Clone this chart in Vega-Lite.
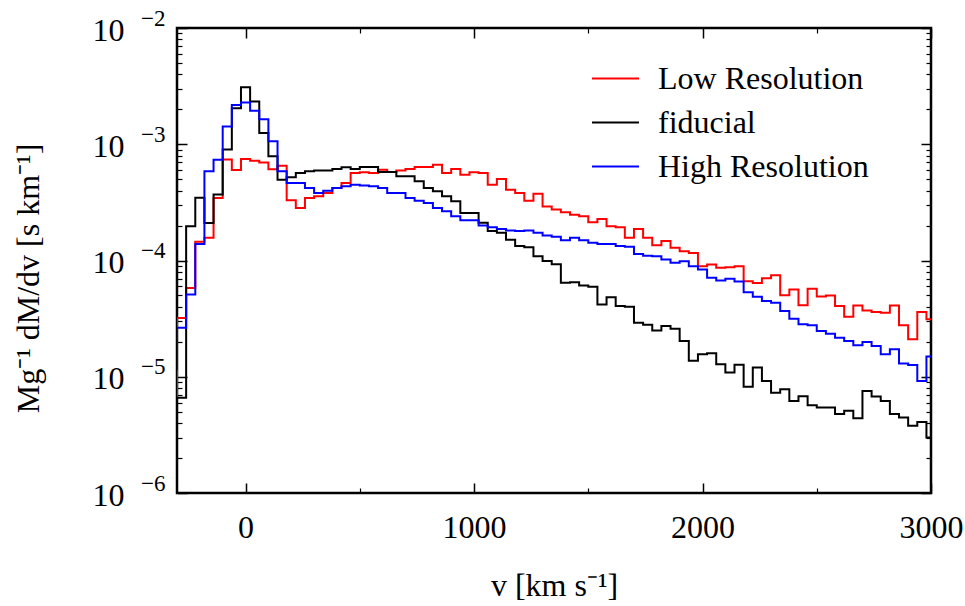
{
  "$schema": "https://vega.github.io/schema/vega-lite/v6.json",
  "width": 754,
  "height": 465,
  "autosize": {"type": "none"},
  "padding": {"left": 177, "top": 28, "right": 34, "bottom": 113},
  "background": "white",
  "config": {
    "font": "Liberation Serif",
    "view": {"stroke": "black", "strokeWidth": 2.5},
    "axis": {"grid": false, "domain": false, "labelColor": "black", "tickColor": "black", "titleColor": "black", "labelFont": "Liberation Serif", "titleFont": "Liberation Serif", "titleFontWeight": "normal", "labelFlush": false, "labelOverlap": false}
  },
  "data": {"values": [
    {"v": -340, "Low Resolution": 6.8e-6, "fiducial": 5.0e-6, "High Resolution": 1.16e-5},
    {"v": -300, "Low Resolution": 3.2e-5, "fiducial": 6.6e-6, "High Resolution": 2.64e-5},
    {"v": -260, "Low Resolution": 5.8e-5, "fiducial": 1.97e-4, "High Resolution": 5.1e-5},
    {"v": -220, "Low Resolution": 1.45e-4, "fiducial": 3.46e-4, "High Resolution": 1.39e-4},
    {"v": -180, "Low Resolution": 1.57e-4, "fiducial": 2.1e-4, "High Resolution": 5.85e-4},
    {"v": -140, "Low Resolution": 3.45e-4, "fiducial": 3.7e-4, "High Resolution": 7.36e-4},
    {"v": -100, "Low Resolution": 7.4e-4, "fiducial": 9.0e-4, "High Resolution": 1.42e-3},
    {"v": -60, "Low Resolution": 6.0e-4, "fiducial": 2.04e-3, "High Resolution": 2.18e-3},
    {"v": -20, "Low Resolution": 7.46e-4, "fiducial": 3.1e-3, "High Resolution": 2.29e-3},
    {"v": 20, "Low Resolution": 7.2e-4, "fiducial": 2.33e-3, "High Resolution": 1.94e-3},
    {"v": 60, "Low Resolution": 6.98e-4, "fiducial": 1.25e-3, "High Resolution": 1.64e-3},
    {"v": 100, "Low Resolution": 6.1e-4, "fiducial": 7.9e-4, "High Resolution": 1.06e-3},
    {"v": 140, "Low Resolution": 6.53e-4, "fiducial": 4.95e-4, "High Resolution": 5.85e-4},
    {"v": 180, "Low Resolution": 3.3e-4, "fiducial": 5.19e-4, "High Resolution": 4.64e-4},
    {"v": 220, "Low Resolution": 2.83e-4, "fiducial": 5.66e-4, "High Resolution": 4.64e-4},
    {"v": 260, "Low Resolution": 3.45e-4, "fiducial": 5.85e-4, "High Resolution": 4.21e-4},
    {"v": 300, "Low Resolution": 3.57e-4, "fiducial": 5.96e-4, "High Resolution": 3.81e-4},
    {"v": 340, "Low Resolution": 3.81e-4, "fiducial": 5.96e-4, "High Resolution": 3.99e-4},
    {"v": 380, "Low Resolution": 4.21e-4, "fiducial": 6.12e-4, "High Resolution": 4.21e-4},
    {"v": 420, "Low Resolution": 4.64e-4, "fiducial": 6.33e-4, "High Resolution": 4.35e-4},
    {"v": 460, "Low Resolution": 5.66e-4, "fiducial": 6.12e-4, "High Resolution": 4.49e-4},
    {"v": 500, "Low Resolution": 5.73e-4, "fiducial": 6.37e-4, "High Resolution": 4.41e-4},
    {"v": 540, "Low Resolution": 5.66e-4, "fiducial": 6.37e-4, "High Resolution": 4.35e-4},
    {"v": 580, "Low Resolution": 6.04e-4, "fiducial": 5.77e-4, "High Resolution": 4.21e-4},
    {"v": 620, "Low Resolution": 5.77e-4, "fiducial": 5.77e-4, "High Resolution": 3.81e-4},
    {"v": 660, "Low Resolution": 5.96e-4, "fiducial": 5.3e-4, "High Resolution": 3.81e-4},
    {"v": 700, "Low Resolution": 6.12e-4, "fiducial": 5.3e-4, "High Resolution": 3.45e-4},
    {"v": 740, "Low Resolution": 6.37e-4, "fiducial": 4.8e-4, "High Resolution": 3.27e-4},
    {"v": 780, "Low Resolution": 6.37e-4, "fiducial": 4.21e-4, "High Resolution": 3.13e-4},
    {"v": 820, "Low Resolution": 6.67e-4, "fiducial": 3.94e-4, "High Resolution": 2.83e-4},
    {"v": 860, "Low Resolution": 5.66e-4, "fiducial": 3.57e-4, "High Resolution": 2.65e-4},
    {"v": 900, "Low Resolution": 6.12e-4, "fiducial": 3.23e-4, "High Resolution": 2.4e-4},
    {"v": 940, "Low Resolution": 5.47e-4, "fiducial": 2.56e-4, "High Resolution": 2.22e-4},
    {"v": 980, "Low Resolution": 5.73e-4, "fiducial": 2.56e-4, "High Resolution": 2.22e-4},
    {"v": 1020, "Low Resolution": 5.66e-4, "fiducial": 2.11e-4, "High Resolution": 2.0e-4},
    {"v": 1060, "Low Resolution": 4.49e-4, "fiducial": 1.79e-4, "High Resolution": 1.93e-4},
    {"v": 1100, "Low Resolution": 5.02e-4, "fiducial": 1.73e-4, "High Resolution": 1.87e-4},
    {"v": 1140, "Low Resolution": 4.06e-4, "fiducial": 1.51e-4, "High Resolution": 1.81e-4},
    {"v": 1180, "Low Resolution": 3.81e-4, "fiducial": 1.33e-4, "High Resolution": 1.79e-4},
    {"v": 1220, "Low Resolution": 3.27e-4, "fiducial": 1.3e-4, "High Resolution": 1.81e-4},
    {"v": 1260, "Low Resolution": 3.76e-4, "fiducial": 1.09e-4, "High Resolution": 1.73e-4},
    {"v": 1300, "Low Resolution": 2.92e-4, "fiducial": 9.9e-5, "High Resolution": 1.64e-4},
    {"v": 1340, "Low Resolution": 2.75e-4, "fiducial": 9.3e-5, "High Resolution": 1.6e-4},
    {"v": 1380, "Low Resolution": 2.6e-4, "fiducial": 6.44e-5, "High Resolution": 1.49e-4},
    {"v": 1420, "Low Resolution": 2.48e-4, "fiducial": 6.5e-5, "High Resolution": 1.57e-4},
    {"v": 1460, "Low Resolution": 2.4e-4, "fiducial": 6.1e-5, "High Resolution": 1.49e-4},
    {"v": 1500, "Low Resolution": 2.13e-4, "fiducial": 5.94e-5, "High Resolution": 1.42e-4},
    {"v": 1540, "Low Resolution": 2.28e-4, "fiducial": 4.19e-5, "High Resolution": 1.39e-4},
    {"v": 1580, "Low Resolution": 1.97e-4, "fiducial": 4.84e-5, "High Resolution": 1.39e-4},
    {"v": 1620, "Low Resolution": 1.93e-4, "fiducial": 4.06e-5, "High Resolution": 1.33e-4},
    {"v": 1660, "Low Resolution": 1.57e-4, "fiducial": 4.0e-5, "High Resolution": 1.31e-4},
    {"v": 1700, "Low Resolution": 1.87e-4, "fiducial": 2.92e-5, "High Resolution": 1.14e-4},
    {"v": 1740, "Low Resolution": 1.57e-4, "fiducial": 2.8e-5, "High Resolution": 1.1e-4},
    {"v": 1780, "Low Resolution": 1.35e-4, "fiducial": 2.5e-5, "High Resolution": 1.09e-4},
    {"v": 1820, "Low Resolution": 1.47e-4, "fiducial": 2.73e-5, "High Resolution": 1.02e-4},
    {"v": 1860, "Low Resolution": 1.29e-4, "fiducial": 2.59e-5, "High Resolution": 9.56e-5},
    {"v": 1900, "Low Resolution": 1.2e-4, "fiducial": 2.03e-5, "High Resolution": 9.87e-5},
    {"v": 1940, "Low Resolution": 1.16e-4, "fiducial": 1.37e-5, "High Resolution": 8.93e-5},
    {"v": 1980, "Low Resolution": 8.93e-5, "fiducial": 1.56e-5, "High Resolution": 8.37e-5},
    {"v": 2020, "Low Resolution": 9.24e-5, "fiducial": 1.59e-5, "High Resolution": 7.1e-5},
    {"v": 2060, "Low Resolution": 8.65e-5, "fiducial": 1.28e-5, "High Resolution": 6.73e-5},
    {"v": 2100, "Low Resolution": 8.77e-5, "fiducial": 1.09e-5, "High Resolution": 6.97e-5},
    {"v": 2140, "Low Resolution": 8.93e-5, "fiducial": 1.27e-5, "High Resolution": 6.6e-5},
    {"v": 2180, "Low Resolution": 6.64e-5, "fiducial": 8.2e-6, "High Resolution": 5.33e-5},
    {"v": 2220, "Low Resolution": 6.4e-5, "fiducial": 1.2e-5, "High Resolution": 4.88e-5},
    {"v": 2260, "Low Resolution": 7.05e-5, "fiducial": 9.2e-6, "High Resolution": 4.48e-5},
    {"v": 2300, "Low Resolution": 7.45e-5, "fiducial": 7.3e-6, "High Resolution": 4.33e-5},
    {"v": 2340, "Low Resolution": 5.02e-5, "fiducial": 7.8e-6, "High Resolution": 3.67e-5},
    {"v": 2380, "Low Resolution": 5.64e-5, "fiducial": 6.2e-6, "High Resolution": 3.16e-5},
    {"v": 2420, "Low Resolution": 4.12e-5, "fiducial": 6.8e-6, "High Resolution": 2.83e-5},
    {"v": 2460, "Low Resolution": 5.71e-5, "fiducial": 5.7e-6, "High Resolution": 2.77e-5},
    {"v": 2500, "Low Resolution": 4.9e-5, "fiducial": 5.43e-6, "High Resolution": 2.47e-5},
    {"v": 2540, "Low Resolution": 5.0e-5, "fiducial": 5.43e-6, "High Resolution": 2.34e-5},
    {"v": 2580, "Low Resolution": 4.06e-5, "fiducial": 4.77e-6, "High Resolution": 2.17e-5},
    {"v": 2620, "Low Resolution": 3.29e-5, "fiducial": 5.09e-6, "High Resolution": 2.03e-5},
    {"v": 2660, "Low Resolution": 4.11e-5, "fiducial": 4.4e-6, "High Resolution": 1.87e-5},
    {"v": 2700, "Low Resolution": 3.72e-5, "fiducial": 7.55e-6, "High Resolution": 1.99e-5},
    {"v": 2740, "Low Resolution": 3.6e-5, "fiducial": 6.76e-6, "High Resolution": 1.84e-5},
    {"v": 2780, "Low Resolution": 3.56e-5, "fiducial": 6.2e-6, "High Resolution": 1.56e-5},
    {"v": 2820, "Low Resolution": 4.11e-5, "fiducial": 4.77e-6, "High Resolution": 1.72e-5},
    {"v": 2860, "Low Resolution": 2.77e-5, "fiducial": 4.47e-6, "High Resolution": 1.3e-5},
    {"v": 2900, "Low Resolution": 2.1e-5, "fiducial": 3.78e-6, "High Resolution": 1.26e-5},
    {"v": 2940, "Low Resolution": 3.6e-5, "fiducial": 4.09e-6, "High Resolution": 9.2e-6},
    {"v": 2980, "Low Resolution": 3.12e-5, "fiducial": 3.0e-6, "High Resolution": 1.49e-5},
    {"v": 3020, "Low Resolution": 3.12e-5, "fiducial": 3.0e-6, "High Resolution": 1.49e-5}
  ]},
  "transform": [{"fold": ["Low Resolution", "fiducial", "High Resolution"], "as": ["series", "dMdv"]}],
  "layer": [
    {
      "mark": {"type": "line", "interpolate": "step-after", "strokeWidth": 2, "clip": true},
      "encoding": {
        "x": {"field": "v", "type": "quantitative",
          "scale": {"domain": [-300, 3000], "nice": false, "zero": false},
          "axis": {"orient": "bottom", "values": [0, 1000, 2000, 3000], "format": "d", "ticks": false, "labelPadding": 19, "labelFontSize": 32, "title": "v [km s⁻¹]", "titleFontSize": 32, "titleY": 92, "titleBaseline": "middle"}},
        "y": {"field": "dMdv", "type": "quantitative",
          "scale": {"type": "log", "domain": [1e-6, 1e-2], "nice": false},
          "axis": {"orient": "left", "values": [1e-6, 1e-5, 1e-4, 1e-3, 1e-2], "ticks": false, "labelPadding": 53, "labelFontSize": 32, "labelOffset": 2,
            "labelExpr": "'10'",
            "title": "Mg⁻¹ dM/dv [s km⁻¹]", "titleFontSize": 32, "titleAngle": -90, "titleX": -149, "titleY": 250, "titleAlign": "center", "titleBaseline": "middle"}},
        "color": {"field": "series", "type": "nominal",
          "scale": {"domain": ["Low Resolution", "fiducial", "High Resolution"], "range": ["#ff0000", "#000000", "#0000ff"]},
          "legend": {"orient": "none", "legendX": 414, "legendY": 26, "title": null, "symbolType": "stroke", "symbolSize": 2209, "symbolStrokeWidth": 2, "labelFontSize": 32, "labelFont": "Liberation Serif", "labelColor": "black", "labelLimit": 0, "rowPadding": 3, "labelOffset": 18}}
      }
    },
    {
      "mark": {"type": "point", "opacity": 0},
      "encoding": {
        "x": {"field": "v", "type": "quantitative", "scale": {"domain": [-300, 3000], "nice": false, "zero": false},
          "axis": {"orient": "bottom", "values": [0, 1000, 2000, 3000], "labels": false, "title": null, "tickSize": -10, "tickWidth": 1.5}},
        "y": {"field": "dMdv", "type": "quantitative", "scale": {"type": "log", "domain": [1e-6, 1e-2], "nice": false},
          "axis": {"orient": "left", "values": [1e-6, 1e-5, 1e-4, 1e-3, 1e-2], "labels": false, "title": null, "tickSize": -10, "tickWidth": 1.5}}
      }
    },
    {
      "mark": {"type": "point", "opacity": 0},
      "encoding": {
        "x": {"field": "v", "type": "quantitative", "scale": {"domain": [-300, 3000], "nice": false, "zero": false},
          "axis": {"orient": "bottom", "values": [500, 1500, 2500], "labels": false, "title": null, "tickSize": -5, "tickWidth": 1.2}},
        "y": {"field": "dMdv", "type": "quantitative", "scale": {"type": "log", "domain": [1e-6, 1e-2], "nice": false},
          "axis": {"orient": "left", "values": [2e-6, 3e-6, 4e-6, 5e-6, 6e-6, 7e-6, 8e-6, 9e-6, 2e-5, 3e-5, 4e-5, 5e-5, 6e-5, 7e-5, 8e-5, 9e-5, 2e-4, 3e-4, 4e-4, 5e-4, 6e-4, 7e-4, 8e-4, 9e-4, 2e-3, 3e-3, 4e-3, 5e-3, 6e-3, 7e-3, 8e-3, 9e-3], "labels": false, "title": null, "tickSize": -5, "tickWidth": 1.2}}
      }
    },
    {
      "mark": {"type": "point", "opacity": 0},
      "encoding": {
        "x": {"field": "v", "type": "quantitative", "scale": {"domain": [-300, 3000], "nice": false, "zero": false},
          "axis": {"orient": "top", "values": [0, 1000, 2000, 3000], "labels": false, "title": null, "tickSize": -10, "tickWidth": 1.5}},
        "y": {"field": "dMdv", "type": "quantitative", "scale": {"type": "log", "domain": [1e-6, 1e-2], "nice": false},
          "axis": {"orient": "right", "values": [1e-6, 1e-5, 1e-4, 1e-3, 1e-2], "labels": false, "title": null, "tickSize": -10, "tickWidth": 1.5}}
      }
    },
    {
      "mark": {"type": "point", "opacity": 0},
      "encoding": {
        "x": {"field": "v", "type": "quantitative", "scale": {"domain": [-300, 3000], "nice": false, "zero": false},
          "axis": {"orient": "top", "values": [500, 1500, 2500], "labels": false, "title": null, "tickSize": -5, "tickWidth": 1.2}},
        "y": {"field": "dMdv", "type": "quantitative", "scale": {"type": "log", "domain": [1e-6, 1e-2], "nice": false},
          "axis": {"orient": "right", "values": [2e-6, 3e-6, 4e-6, 5e-6, 6e-6, 7e-6, 8e-6, 9e-6, 2e-5, 3e-5, 4e-5, 5e-5, 6e-5, 7e-5, 8e-5, 9e-5, 2e-4, 3e-4, 4e-4, 5e-4, 6e-4, 7e-4, 8e-4, 9e-4, 2e-3, 3e-3, 4e-3, 5e-3, 6e-3, 7e-3, 8e-3, 9e-3], "labels": false, "title": null, "tickSize": -5, "tickWidth": 1.2}}
      }
    },
    {
      "mark": {"type": "point", "opacity": 0},
      "encoding": {
        "x": {"field": "v", "type": "quantitative", "scale": {"domain": [-300, 3000], "nice": false, "zero": false},
          "axis": null},
        "y": {"field": "dMdv", "type": "quantitative", "scale": {"type": "log", "domain": [1e-6, 1e-2], "nice": false},
          "axis": {"orient": "left", "values": [1e-6, 1e-5, 1e-4, 1e-3, 1e-2], "ticks": false, "labels": true, "title": null, "labelPadding": 12, "labelFontSize": 23, "labelOffset": -10,
            "labelExpr": "'−' + round(-log(datum.value)/LN10)"}}
      }
    }
  ],
  "resolve": {"axis": {"x": "independent", "y": "independent"}}
}
